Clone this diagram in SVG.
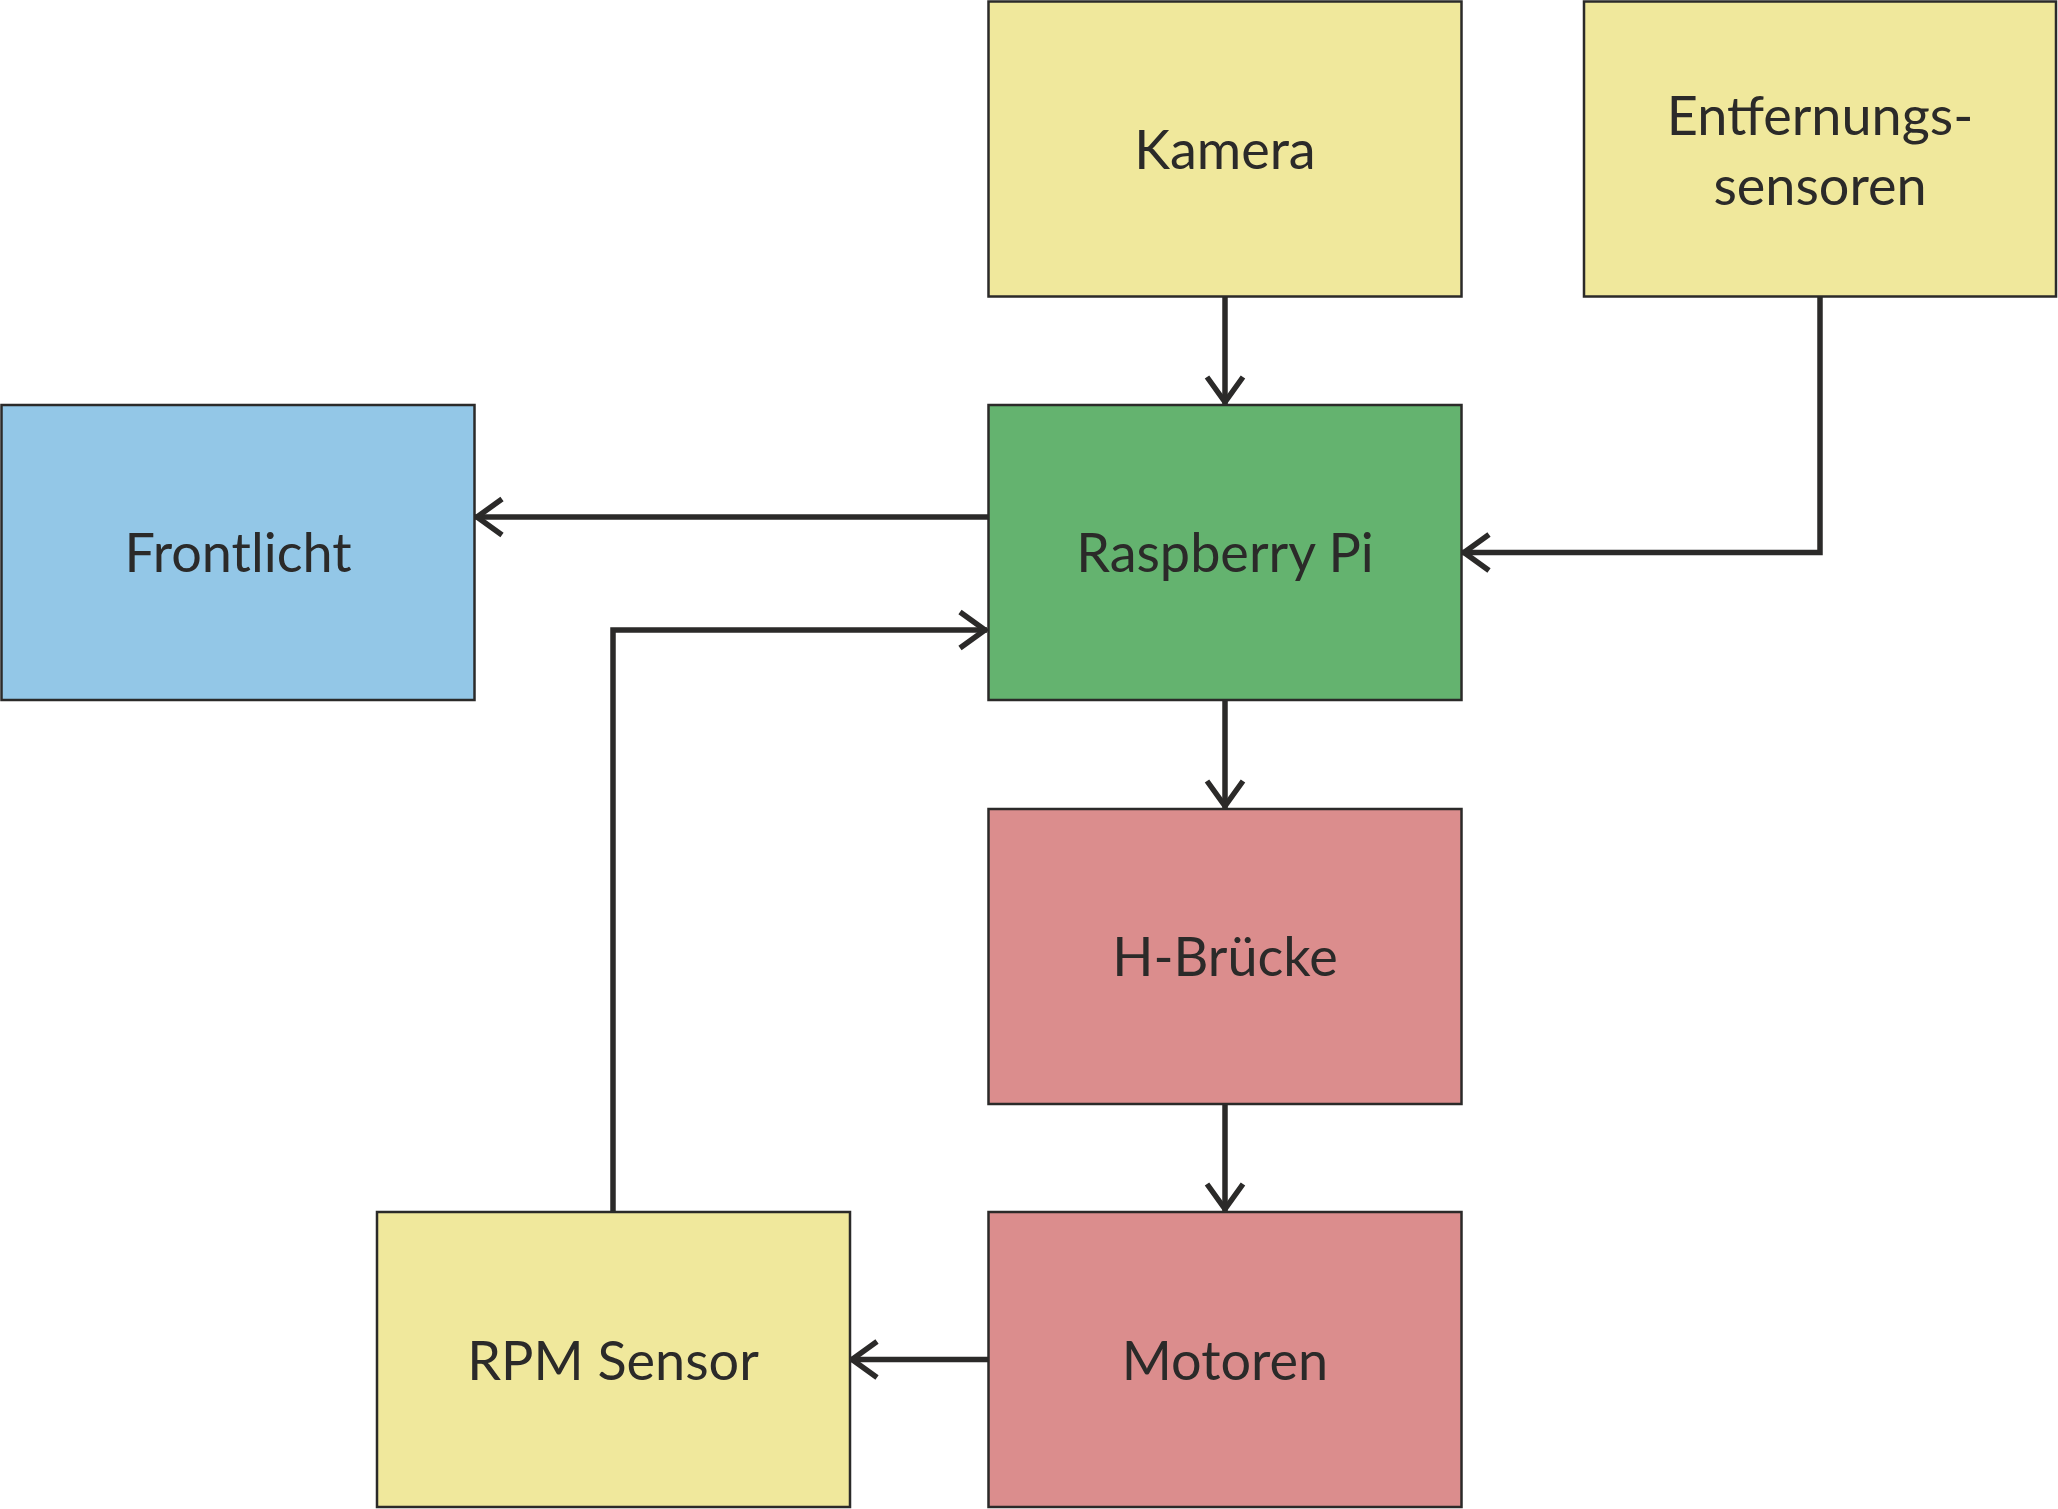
<svg xmlns="http://www.w3.org/2000/svg" width="2058" height="1509" viewBox="0 0 2058 1509">
<style>
.box{stroke:#2b2a29;stroke-width:2.5}
.y{fill:#f0e89c}.g{fill:#64b36f}.b{fill:#93c7e7}.r{fill:#db8d8d}
.lbl{font-family:Lato,"Open Sans","Liberation Sans",sans-serif;font-size:54px;fill:#2b2a29;text-anchor:middle}
.con{fill:none;stroke:#2b2a29;stroke-width:5.5;marker-end:url(#ah)}
</style>
<defs>
<marker id="ah" viewBox="-32 -20 36 40" refX="0" refY="0" markerWidth="36" markerHeight="40" markerUnits="userSpaceOnUse" orient="auto" overflow="visible">
<path d="M -27 -18 L -2 0 L -27 18" fill="none" stroke="#2b2a29" stroke-width="5.5"/>
</marker>
</defs>
<rect width="2058" height="1509" fill="#ffffff"/>
<g id="connectors">
<path class="con" d="M 1225 297 L 1225 404"/>
<path class="con" d="M 988 517 L 475 517"/>
<path class="con" d="M 1820 297 L 1820 552.5 L 1462 552.5"/>
<path class="con" d="M 613 1212 L 613 630 L 987 630"/>
<path class="con" d="M 1225 700 L 1225 808"/>
<path class="con" d="M 1225 1104 L 1225 1211"/>
<path class="con" d="M 988 1359.5 L 850 1359.5"/>
</g>
<g id="kamera"><rect class="box y" x="988.5" y="1.5" width="473" height="295"/><text class="lbl" x="1225" y="169">Kamera</text></g>
<g id="entfernungssensoren"><rect class="box y" x="1584" y="1.5" width="472" height="295"/><text class="lbl" x="1820" y="135">Entfernungs-</text><text class="lbl" x="1820" y="205">sensoren</text></g>
<g id="frontlicht"><rect class="box b" x="1.5" y="405" width="473" height="295"/><text class="lbl" x="238" y="572">Frontlicht</text></g>
<g id="raspberry"><rect class="box g" x="988.5" y="405" width="473" height="295"/><text class="lbl" x="1225" y="572">Raspberry Pi</text></g>
<g id="hbruecke"><rect class="box r" x="988.5" y="809" width="473" height="295"/><text class="lbl" x="1225" y="976">H-Brücke</text></g>
<g id="rpm"><rect class="box y" x="377" y="1212" width="473" height="295"/><text class="lbl" x="613" y="1380">RPM Sensor</text></g>
<g id="motoren"><rect class="box r" x="988.5" y="1212" width="473" height="295"/><text class="lbl" x="1225" y="1380">Motoren</text></g>
</svg>
